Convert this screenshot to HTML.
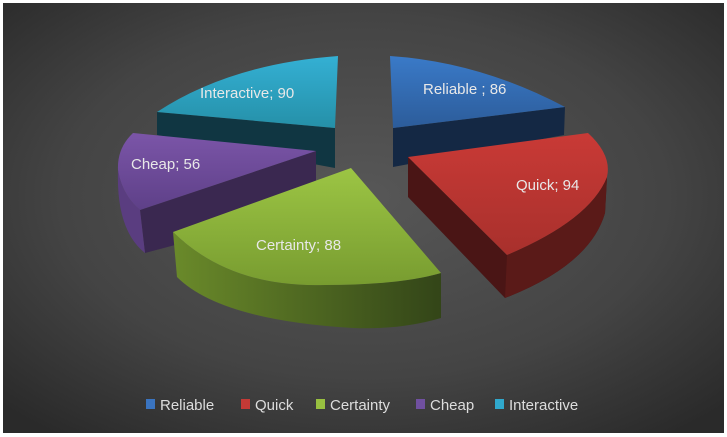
<!DOCTYPE html>
<html><head><style>
html,body{margin:0;padding:0;background:#fff;}
svg{display:block;}
text{font-family:"Liberation Sans",sans-serif;}
</style></head><body>
<svg width="727" height="437" viewBox="0 0 727 437" xmlns="http://www.w3.org/2000/svg">
<defs>
<radialGradient id="bg" cx="0.5" cy="0.45" r="0.7">
<stop offset="0" stop-color="#575757"/><stop offset="0.6" stop-color="#444"/><stop offset="1" stop-color="#2a2a2a"/>
</radialGradient>
<linearGradient id="gtop" x1="0" y1="0" x2="0" y2="1"><stop offset="0" stop-color="#9cc544"/><stop offset="1" stop-color="#789c30"/></linearGradient>
<linearGradient id="gside" x1="0" y1="0" x2="1" y2="0"><stop offset="0" stop-color="#6a8a2a"/><stop offset="1" stop-color="#334518"/></linearGradient>
<linearGradient id="rtop" x1="0" y1="0" x2="0" y2="1"><stop offset="0" stop-color="#c93a36"/><stop offset="1" stop-color="#a8302c"/></linearGradient>
<linearGradient id="btop" x1="0" y1="0" x2="0" y2="1"><stop offset="0" stop-color="#3a7ac8"/><stop offset="1" stop-color="#2c5c9a"/></linearGradient>
<linearGradient id="itop" x1="0" y1="0" x2="0" y2="1"><stop offset="0" stop-color="#34b0d4"/><stop offset="1" stop-color="#2590a8"/></linearGradient>
<linearGradient id="ptop" x1="0" y1="0" x2="0" y2="1"><stop offset="0" stop-color="#7b55a8"/><stop offset="1" stop-color="#5e4088"/></linearGradient>
</defs>
<rect x="0" y="0" width="727" height="437" fill="#fff"/>
<rect x="3" y="3" width="721" height="430" fill="url(#bg)"/>
<!-- Reliable -->
<path d="M393,128 L565,107 L564,135 L393,167 Z" fill="#142844"/>
<path d="M390,56 Q480,62 565,107 L393,128 Z" fill="url(#btop)"/>
<!-- Interactive -->
<path d="M157,112 L335,128 L335,168 L157,135 Z" fill="#103642"/>
<path d="M338,56 Q230,64 157,112 L335,128 Z" fill="url(#itop)"/>
<!-- Cheap -->
<path d="M140,210 L316,151 L316,200 L175,245 L145,253 Z" fill="#3a2850"/>
<path d="M118,170 Q116,230 145,253 L140,210 Q122,195 118,170 Z" fill="#5a3d80"/>
<path d="M316,151 L133,133 Q117,148 118,170 Q122,195 140,210 Z" fill="url(#ptop)"/>
<!-- Quick -->
<path d="M408,157 L507,255 Q590,220 607,177 L605,213 Q590,265 505,298 L408,197 Z" fill="#4a1515"/>
<path d="M507,255 Q590,220 607,177 L605,213 Q590,265 505,298 Z" fill="#5a1a18"/>
<path d="M408,157 L588,133 Q612,155 607,177 Q590,220 507,255 Z" fill="url(#rtop)"/>
<!-- Certainty -->
<path d="M173,232 Q230,288 325,285 Q400,285 441,273 L441,318 Q400,330 353,328 Q220,320 177,277 Z" fill="url(#gside)"/>
<path d="M351,168 L173,232 Q230,288 325,285 Q400,285 441,273 Z" fill="url(#gtop)"/>
<!-- labels -->
<g fill="#e8e8e8" font-size="15">
<text x="423" y="94">Reliable ; 86</text>
<text x="200" y="98">Interactive; 90</text>
<text x="131" y="169">Cheap; 56</text>
<text x="516" y="190">Quick; 94</text>
<text x="256" y="250">Certainty; 88</text>
</g>
<!-- legend -->
<g font-size="15" fill="#ddd">
<rect x="146" y="399" width="9" height="10" fill="#3a74c0"/><text x="160" y="410">Reliable</text>
<rect x="241" y="399" width="9" height="10" fill="#c43a36"/><text x="255" y="410">Quick</text>
<rect x="316" y="399" width="9" height="10" fill="#98c040"/><text x="330" y="410">Certainty</text>
<rect x="416" y="399" width="9" height="10" fill="#7050a0"/><text x="430" y="410">Cheap</text>
<rect x="495" y="399" width="9" height="10" fill="#30a8cc"/><text x="509" y="410">Interactive</text>
</g>
</svg>
</body></html>
